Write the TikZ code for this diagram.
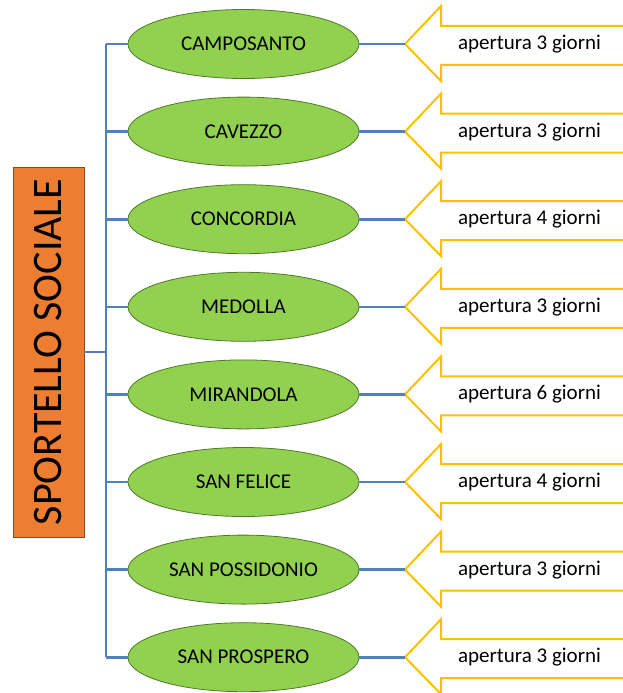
\documentclass[tikz,border=0pt]{standalone}
\usepackage{fontspec}
\setmainfont{Carlito}
\definecolor{comune}{HTML}{92D050}
\definecolor{comuneedge}{HTML}{4E7A27}
\definecolor{sportello}{HTML}{ED7D31}
\definecolor{sportelloedge}{HTML}{8A4A1E}
\definecolor{ramo}{HTML}{4F81BD}
\definecolor{freccia}{HTML}{FFC000}
\tikzset{
  comune/.style={ellipse,draw=comuneedge,line width=0.8pt,fill=comune,
    minimum width=231,minimum height=69,inner sep=0pt,font=\fontsize{21}{24}\selectfont},
  sportello/.style={rectangle,draw=sportelloedge,line width=0.8pt,fill=sportello,
    minimum width=71,minimum height=370,inner sep=0pt},
  ramo/.style={draw=ramo,line width=2.6pt},
  freccia/.style={draw=freccia,line width=2pt,fill=white,line join=miter},
  giorni/.style={inner sep=0pt,font=\fontsize{21}{24}\selectfont}
}
\usetikzlibrary{shapes.geometric}
\begin{document}
\begin{tikzpicture}[x=1pt,y=-1pt]%
\useasboundingbox (0,0) rectangle (622,693);
% sportello
\node[sportello] (box) at (48.5,352)
  {\rotatebox{90}{\fontsize{42}{48}\selectfont SPORTELLO SOCIALE}};
\coordinate (top) at (106,44);
\coordinate (bot) at (106,657.2);
\draw[ramo] (top) -- (bot);
\draw[ramo] (box.east) -- (box.east -| top);
% comuni e frecce
\foreach \nome/\gg [count=\i from 0] in {CAMPOSANTO/3,CAVEZZO/3,CONCORDIA/4,
    MEDOLLA/3,MIRANDOLA/6,SAN FELICE/4,SAN POSSIDONIO/3,SAN PROSPERO/3}{
  \pgfmathsetmacro\yy{44+87.6*\i}
  \coordinate (p\i) at (405,\yy);
  \draw[freccia] (624,\yy-18) -- (441,\yy-18) -- (441,\yy-38) -- (p\i)
    -- (441,\yy+37) -- (441,\yy+21) -- (624,\yy+21);
  \node[giorni] (t\i) at (529.5,\yy) {apertura \gg\ giorni};
  \node[comune] (c\i) at (243.5,\yy) {\nome};
  \draw[ramo] (c\i.west -| top) -- (c\i.west);
  \draw[ramo] (c\i.east) -- (p\i);
}
\end{tikzpicture}
\end{document}
